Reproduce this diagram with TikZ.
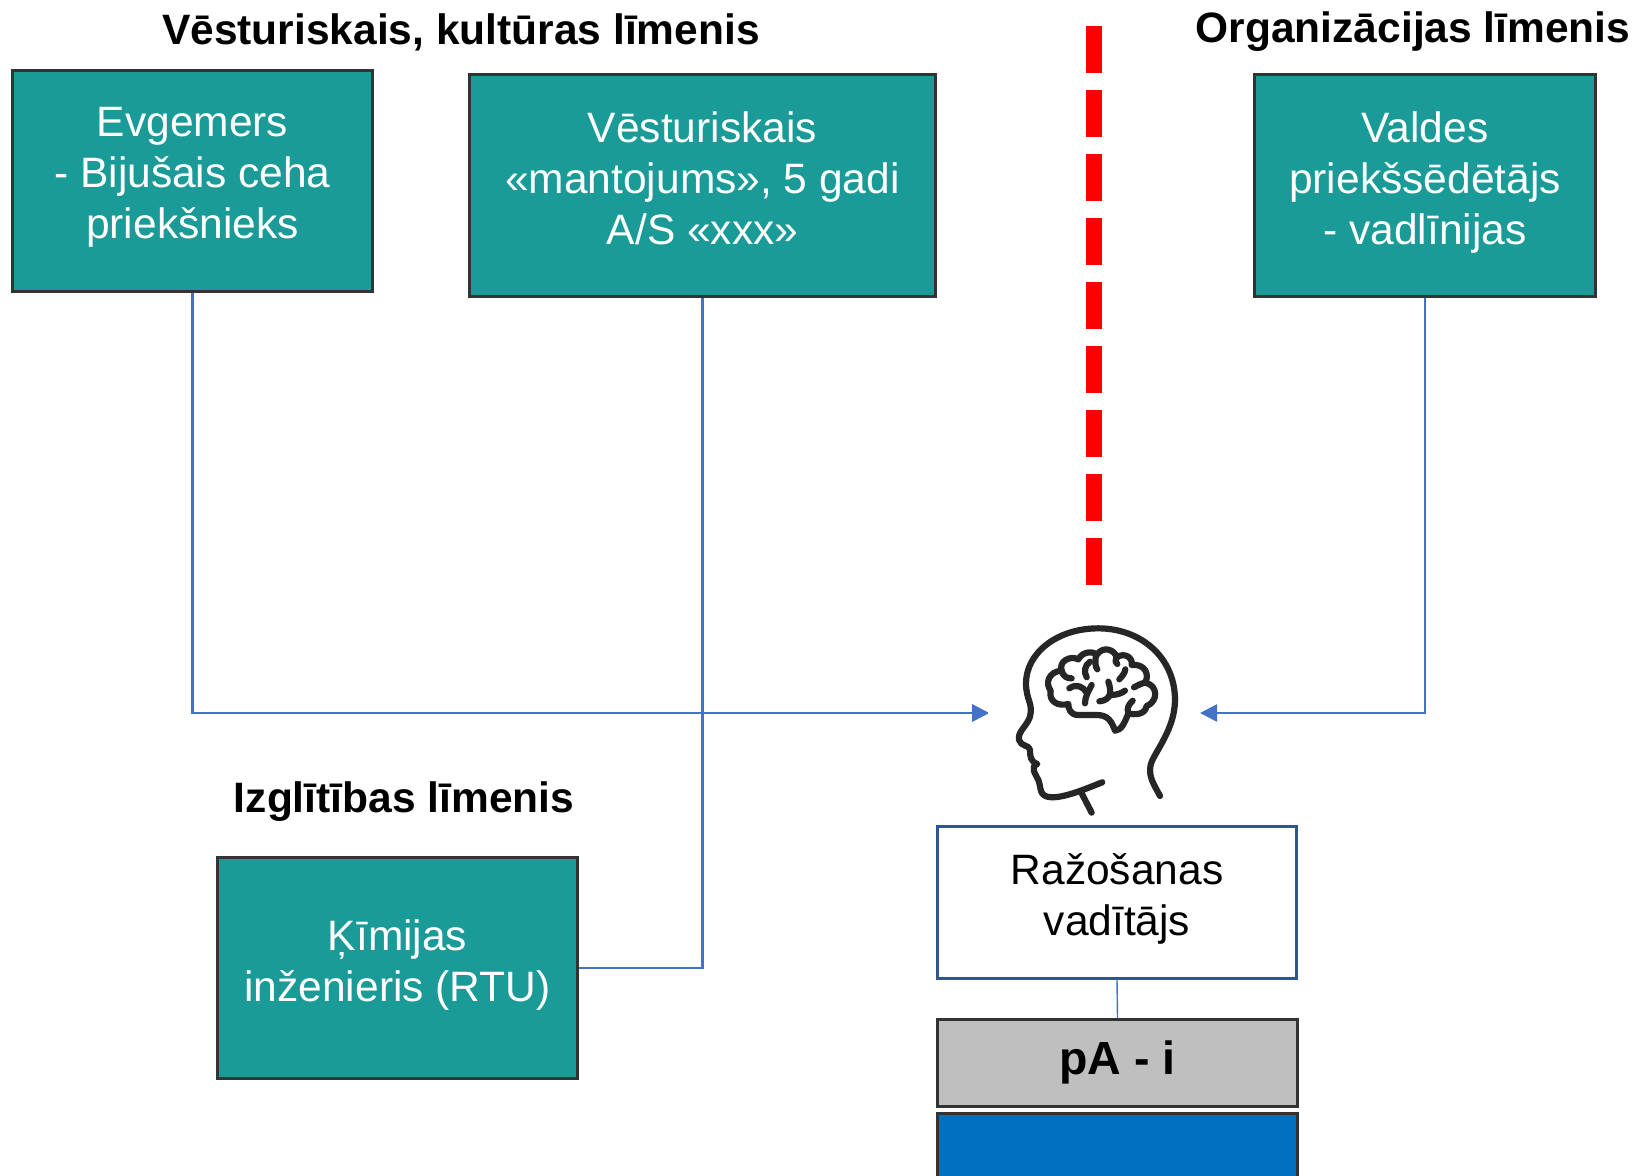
\documentclass[tikz,border=0pt]{standalone}
\usepackage{fontspec}
\setmainfont{Liberation Sans}
\usetikzlibrary{arrows.meta}
\definecolor{tealbox}{HTML}{1A9B98}
\definecolor{linkblue}{HTML}{4472C4}
\definecolor{edgegrey}{HTML}{333333}
\definecolor{edgeblue}{HTML}{2F5597}
\definecolor{barblue}{HTML}{0070C0}
\definecolor{headblack}{HTML}{262626}
\begin{document}
\begin{tikzpicture}[x=1pt,y=-1pt]
	\tikzstyle{box} = [draw=edgegrey, line width=3pt, inner sep=0pt, align=center, anchor=north west, font=\fontsize{42.5}{51}\selectfont, execute at begin node=\strut, execute at end node=\strut]
	\tikzstyle{r} = [box, fill=tealbox, text=white]
	\tikzstyle{w} = [box, draw=edgeblue, fill=white]
	\tikzstyle{g} = [box, fill=black!25, font=\fontsize{46.5}{56}\selectfont\bfseries]
	\tikzstyle{b} = [box, fill=barblue]
	\tikzstyle{h} = [font=\fontsize{42.5}{48}\selectfont\bfseries]
	\tikzstyle{l} = [draw=linkblue, line width=2.6pt]
	\tikzstyle{a} = [l, -{Triangle[length=17pt,width=17pt]}]
	\tikzstyle{i} = [draw=headblack, line width=6.2pt, line cap=round, line join=round]
	\useasboundingbox (0,0) rectangle (1640,1175);
	% headings
	\node[h] (title-history) at (461,32) {Vēsturiskais, kultūras līmenis};
	\node[h] (title-org) at (1413,32) {Organizācijas līmenis};
	\node[h] (title-edu) at (404,802) {Izglītības līmenis};
	% boxes
	\node[r, minimum width=360pt, minimum height=221pt] (evgemers) at (11,69) {Evgemers\\- Bijušais ceha\\priekšnieks};
	\node[r, minimum width=466pt, minimum height=222pt] (legacy) at (468,73) {Vēsturiskais\\«mantojums», 5 gadi\\A/S «xxx»};
	\node[r, minimum width=341pt, minimum height=222pt] (board) at (1253,73) {Valdes\\priekšsēdētājs\\- vadlīnijas};
	\node[r, minimum width=360pt, minimum height=221pt] (chem) at (216,856) {Ķīmijas\\inženieris (RTU)};
	\node[w, minimum width=359pt, minimum height=152pt] (manager) at (936,825) {Ražošanas\\vadītājs};
	\node[g, minimum width=360pt, minimum height=87pt] (pai) at (936,1018) {pA - i};
	\node[b, minimum width=360pt, minimum height=80pt] (bluebar) at (936,1112) {};
	% free ends
	\coordinate (in-left) at (989,713);
	\coordinate (in-right) at (1200,713);
	\coordinate (turn-evgemers) at (evgemers.south |- in-left);
	\coordinate (turn-legacy) at (legacy.south |- in-left);
	\coordinate (turn-board) at (board.south |- in-right);
	\coordinate (divider-top) at (1094,26);
	\coordinate (divider-end) at (1094,586);
	% connectors
	\draw[a] (evgemers.south) -- (turn-evgemers) -- (in-left);
	\draw[a] (turn-legacy) -- (in-left);
	\draw[l] (legacy.south) -- (chem.east -| legacy.south) -- (chem.east);
	\draw[a] (board.south) -- (turn-board) -- (in-right);
	\draw[linkblue, line width=1.4pt] (manager.south) -- (pai.north);
	\draw[red, line width=16pt, dash pattern=on 47pt off 17pt] (divider-top) -- (divider-end);
	% head
	\fill[white] (988,600) rectangle (1199,824.5);
	\begin{scope}[shift={(980,600)}, x=0.3333pt, y=-0.3333pt]
		\draw[i] (540,588) .. controls (520,550) and (505,530) .. (512,495) .. controls (520,460) and (585,390) .. (585,300) .. controls (585,170) and (480,85) .. (355,85) .. controls (230,85) and (138,160) .. (138,250) .. controls (138,300) and (160,310) .. (150,350) .. controls (140,380) and (112,395) .. (117,420) .. controls (122,440) and (150,435) .. (150,450) .. controls (150,470) and (152,485) .. (172,492) .. controls (150,500) and (165,520) .. (175,540) .. controls (185,565) and (175,590) .. (215,592) .. controls (260,592) and (320,565) .. (367,547);
		\draw[i] (305,580) -- (335,638);
		\draw[i] (405,392) .. controls (395,365) and (385,345) .. (350,345) -- (295,345) .. controls (270,345) and (265,325) .. (265,312) .. controls (235,320) and (205,305) .. (212,272) .. controls (195,250) and (205,215) .. (245,212) .. controls (235,185) and (270,165) .. (295,178) .. controls (310,150) and (345,155) .. (350,165) .. controls (370,135) and (405,150) .. (410,172) .. controls (435,155) and (460,175) .. (455,195) .. controls (495,190) and (510,225) .. (495,248) .. controls (535,255) and (535,305) .. (500,318) .. controls (495,345) and (465,345) .. (445,340) .. controls (435,365) and (425,392) .. (405,392);
		\draw[i] (245,212) .. controls (250,230) and (260,235) .. (275,235);
		\draw[i] (330,185) .. controls (315,195) and (310,215) .. (320,232);
		\draw[i] (348,165) .. controls (345,185) and (345,200) .. (352,208);
		\draw[i] (410,172) .. controls (405,180) and (405,185) .. (412,192);
		\draw[i] (436,208) .. controls (435,220) and (425,230) .. (418,238);
		\draw[i] (268,265) .. controls (290,250) and (310,260) .. (320,278);
		\draw[i] (335,255) .. controls (325,275) and (315,290) .. (315,310);
		\draw[i] (385,245) .. controls (395,275) and (395,300) .. (358,304);
		\draw[i] (392,285) .. controls (410,285) and (425,280) .. (435,272);
		\draw[i] (462,262) .. controls (475,255) and (485,250) .. (495,248);
		\draw[i] (458,302) .. controls (445,315) and (440,325) .. (445,340);
	\end{scope}
\end{tikzpicture}
\end{document}
